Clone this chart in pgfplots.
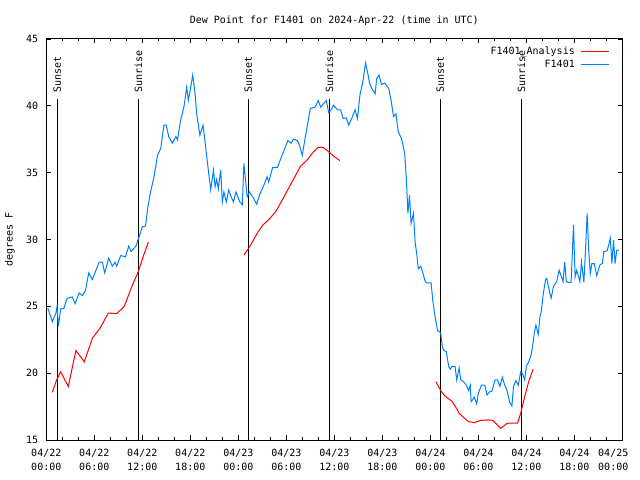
\documentclass[border=0pt]{standalone}
\usepackage{fontspec}
\setmainfont{DejaVu Sans Mono}
\usepackage{pgfplots}
\pgfplotsset{compat=1.18}
\definecolor{redA}{RGB}{255,0,0}
\definecolor{blueF}{RGB}{0,128,255}
\begin{document}
\begin{tikzpicture}[font=\fontsize{10bp}{14bp}\selectfont]
\useasboundingbox (-46.3bp,-40bp) rectangle (593.7bp,440bp);
\begin{axis}[
  scale only axis, width=576bp, height=401bp,
  at={(0,0)}, anchor=south west,
  xmin=0, xmax=72, ymin=15, ymax=45,
  xtick={0,6,...,72}, minor x tick num=2,
  ytick={15,20,...,45},
  xticklabels={04/22\\00:00,04/22\\06:00,04/22\\12:00,04/22\\18:00,04/23\\00:00,04/23\\06:00,04/23\\12:00,04/23\\18:00,04/24\\00:00,04/24\\06:00,04/24\\12:00,04/24\\18:00,04/25\hphantom{000}\\00:00\hphantom{000}},
  xticklabel style={align=center, anchor=north, inner sep=0pt, yshift=-9bp},
  yticklabel style={anchor=east, inner sep=0pt, xshift=-8bp},
  ylabel={degrees F},
  ylabel style={at={(axis description cs:-0.063,0.5)}, anchor=center, inner sep=0pt},
  /pgf/number format/assume math mode=true,
  tick align=inside,
  major tick length=4.5bp, minor tick length=2.5bp,
  every tick/.style={black, line width=0.8bp},
  axis line style={line width=1bp},
  clip=false,
  legend plot pos=right,
  legend cell align=right,
  legend style={draw=none, fill=none, at={(rel axis cs:1,1)}, anchor=north east,
    xshift=-9bp, yshift=-5.5bp, row sep=3bp, column sep=6bp,
    nodes={inner sep=0pt, text height=7.5bp, text depth=2.5bp}},
]
% sunset / sunrise lines
\addplot[black, line width=1.2bp, forget plot] coordinates {(1.375,15) (1.375,40.5)};
\addplot[black, line width=1.2bp, forget plot] coordinates {(11.5,15) (11.5,40.5)};
\addplot[black, line width=1.2bp, forget plot] coordinates {(25.25,15) (25.25,40.5)};
\addplot[black, line width=1.2bp, forget plot] coordinates {(35.375,15) (35.375,40.5)};
\addplot[black, line width=1.2bp, forget plot] coordinates {(49.25,15) (49.25,40.5)};
\addplot[black, line width=1.2bp, forget plot] coordinates {(59.375,15) (59.375,40.5)};
\node[rotate=90, anchor=west, inner sep=0pt] at (axis cs:1.375,41) {Sunset};
\node[rotate=90, anchor=west, inner sep=0pt] at (axis cs:11.5,41) {Sunrise};
\node[rotate=90, anchor=west, inner sep=0pt] at (axis cs:25.25,41) {Sunset};
\node[rotate=90, anchor=west, inner sep=0pt] at (axis cs:35.375,41) {Sunrise};
\node[rotate=90, anchor=west, inner sep=0pt] at (axis cs:49.25,41) {Sunset};
\node[rotate=90, anchor=west, inner sep=0pt] at (axis cs:59.375,41) {Sunrise};
% analysis
\addplot[redA, line width=1bp, legend image code/.code={\pgfsetlinewidth{1.3bp}\pgfsetstrokecolor{redA}\pgfpathmoveto{\pgfpoint{0bp}{0bp}}\pgfpathlineto{\pgfpoint{28bp}{0bp}}\pgfusepath{stroke}}] coordinates {
(0.75,18.57) (1.3,19.5) (1.8,20.1) (2.75,19.0) (3.7,21.7) (4.75,20.85) (5.75,22.6) (6.7,23.35) (7.75,24.5) (8.8,24.45) (9.75,25.0) (10.7,26.5) (11.5,27.6) (12.1,28.7) (12.75,29.8)
};
\addlegendentry{F1401\_Analysis}
\addplot[redA, line width=1bp, forget plot] coordinates {
(24.7,28.84) (25.25,29.3) (25.9,29.96) (26.5,30.6) (27.1,31.1) (28.0,31.6) (28.8,32.2) (29.6,33.07) (30.5,34.07) (31.3,34.95) (31.8,35.5) (32.55,35.9) (33.4,36.56) (34.0,36.9) (34.6,36.9) (35.3,36.56) (36.0,36.2) (36.7,35.9)
};
\addplot[redA, line width=1bp, forget plot] coordinates {
(48.7,19.36) (49.3,18.7) (49.8,18.3) (50.7,17.9) (51.2,17.45) (51.6,17.0) (52.2,16.67) (52.8,16.37) (53.5,16.3) (54.3,16.47) (55.2,16.5) (55.8,16.47) (56.8,15.87) (57.6,16.25) (58.9,16.27) (59.3,17.0) (59.8,18.25) (60.3,19.36) (60.85,20.3)
};
% observations
\addplot[blueF, line width=1bp, legend image code/.code={\pgfsetlinewidth{1.3bp}\pgfsetstrokecolor{blueF}\pgfpathmoveto{\pgfpoint{0bp}{0bp}}\pgfpathlineto{\pgfpoint{28bp}{0bp}}\pgfusepath{stroke}}] coordinates {
(0.2,24.85) (0.75,23.85) (1.2,24.5) (1.35,25.0) (1.5,23.5) (1.8,24.8) (2.2,24.85) (2.6,25.6) (3.25,25.7) (3.6,25.2) (4.1,26.0) (4.5,25.8) (4.9,26.2) (5.3,27.5) (5.75,27.0) (6.6,28.3) (7.0,28.3) (7.3,27.5) (7.8,28.6) (8.25,28.0) (8.6,28.3) (8.8,28.0) (9.3,28.8) (9.9,28.7) (10.3,29.5) (10.6,29.1) (11.2,29.5) (11.6,30.2) (12.0,30.95) (12.4,31.0) (12.7,32.45) (13.05,33.6) (13.5,34.8) (13.9,36.3) (14.3,36.8) (14.7,38.55) (15.0,38.55) (15.3,37.7) (15.75,37.2) (16.2,37.7) (16.4,37.45) (16.8,38.95) (17.2,39.9) (17.55,41.4) (17.75,40.4) (18.0,41.2) (18.3,42.3) (18.6,40.9) (18.8,39.4) (19.2,37.8) (19.45,38.3) (19.6,38.55) (19.96,36.7) (20.25,35.2) (20.55,33.7) (20.9,35.2) (21.1,33.95) (21.3,34.5) (21.5,33.8) (21.8,35.2) (22.0,32.8) (22.2,33.55) (22.5,32.8) (22.8,33.7) (23.1,33.2) (23.4,32.8) (23.7,33.55) (24.2,32.8) (24.5,32.6) (24.7,35.7) (24.9,34.5) (25.1,33.2) (25.4,33.55) (25.9,33.1) (26.3,32.65) (26.7,33.4) (27.2,34.07) (27.6,34.7) (27.8,34.3) (28.3,35.4) (28.9,35.4) (29.4,36.2) (29.8,36.8) (30.2,37.4) (30.6,37.2) (30.9,37.5) (31.4,37.4) (31.7,36.95) (32.0,36.3) (32.3,37.4) (32.6,38.4) (33.0,39.8) (33.6,39.9) (34.0,40.4) (34.3,39.9) (34.7,40.2) (35.0,40.4) (35.3,39.5) (35.6,39.7) (35.9,40.05) (36.4,39.7) (36.8,39.7) (37.1,39.05) (37.5,39.1) (37.8,38.55) (38.2,39.1) (38.6,39.7) (38.9,39.05) (39.2,40.8) (39.6,41.9) (39.9,43.2) (40.2,42.4) (40.4,41.7) (40.7,41.3) (41.1,40.9) (41.3,42.05) (41.6,42.3) (41.9,41.6) (42.3,41.7) (42.8,41.3) (43.1,40.4) (43.4,39.2) (43.7,39.4) (44.0,38.05) (44.4,37.55) (44.8,36.45) (45.0,34.6) (45.2,31.95) (45.4,33.3) (45.6,31.2) (45.9,31.95) (46.1,29.8) (46.3,28.95) (46.5,27.8) (46.8,28.0) (47.1,27.45) (47.3,26.97) (47.5,26.75) (48.1,26.75) (48.3,25.5) (48.6,24.2) (48.9,23.2) (49.3,23.0) (49.5,21.97) (49.7,21.7) (50.0,21.6) (50.3,20.5) (50.5,20.3) (50.7,20.5) (51.1,20.5) (51.3,19.5) (51.6,20.4) (51.8,19.5) (52.1,19.4) (52.5,19.1) (52.8,18.7) (53.0,19.1) (53.1,17.86) (53.5,18.2) (53.8,17.7) (54.0,18.5) (54.4,19.1) (54.8,19.1) (55.1,18.37) (55.4,18.6) (55.7,18.65) (56.1,19.5) (56.4,19.5) (56.7,19.0) (57.0,19.7) (57.3,19.1) (57.6,18.7) (57.9,17.86) (58.2,17.55) (58.4,19.0) (58.7,19.45) (59.0,19.1) (59.3,20.1) (59.5,20.0) (59.8,19.5) (60.0,20.5) (60.3,20.85) (60.6,21.36) (60.8,22.1) (61.0,23.0) (61.2,23.6) (61.5,22.9) (61.7,24.2) (61.9,24.7) (62.1,25.85) (62.4,26.97) (62.55,27.1) (62.9,26.1) (63.1,25.6) (63.4,26.5) (63.8,26.85) (64.1,27.7) (64.6,26.85) (64.8,28.3) (65.0,26.85) (65.2,26.8) (65.6,26.8) (65.9,31.1) (66.1,27.2) (66.3,27.7) (66.7,26.85) (66.9,28.3) (67.2,26.8) (67.4,29.2) (67.6,31.95) (67.8,29.2) (68.0,27.45) (68.2,28.2) (68.5,28.2) (68.8,27.3) (69.2,28.1) (69.5,28.2) (69.7,29.1) (70.1,29.15) (70.3,29.6) (70.5,30.1) (70.7,28.2) (70.9,29.95) (71.1,28.2) (71.3,29.2) (71.6,29.2)
};
\addlegendentry{F1401}
\node[anchor=base, inner sep=0pt] at ([yshift=15bp]rel axis cs:0.5,1) {Dew Point for F1401 on 2024-Apr-22 (time in UTC)};
\end{axis}
\end{tikzpicture}
\end{document}
